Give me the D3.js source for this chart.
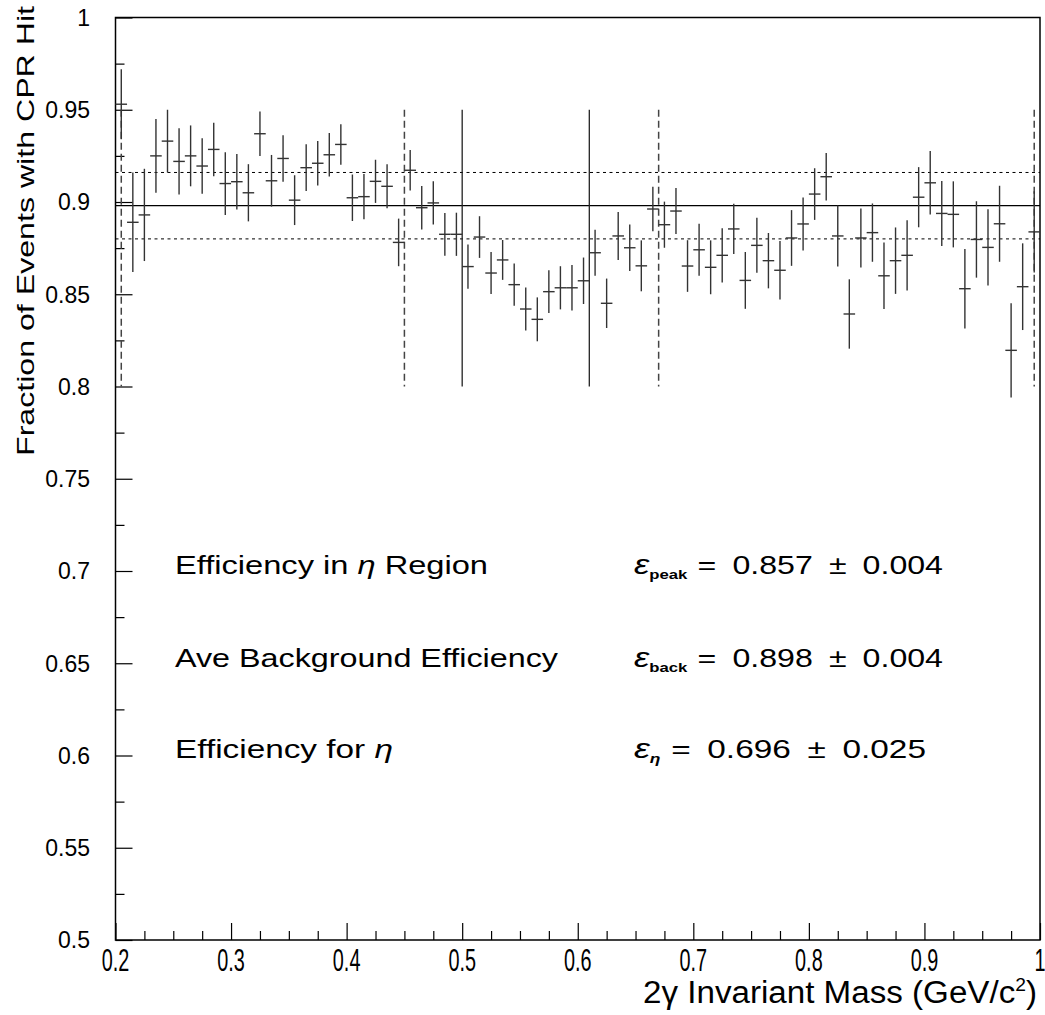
<!DOCTYPE html>
<html>
<head>
<meta charset="utf-8">
<script src="https://cdn.jsdelivr.net/npm/d3@7/dist/d3.min.js"></script>
<style>
  html, body { margin: 0; padding: 0; background: #fff; }
  svg { display: block; }
</style>
</head>
<body>
<svg id="chart" width="1045" height="1015"></svg>
<script>
// Bin centres of the 2-photon invariant mass histogram (GeV/c^2)
const massCenters = [
  0.205, 0.215, 0.225, 0.235, 0.245, 0.255, 0.265, 0.275, 0.285, 0.295,
  0.305, 0.315, 0.325, 0.335, 0.345, 0.355, 0.365, 0.375, 0.385, 0.395,
  0.405, 0.415, 0.425, 0.435, 0.445, 0.455, 0.465, 0.475, 0.485, 0.495,
  0.505, 0.515, 0.525, 0.535, 0.545, 0.555, 0.565, 0.575, 0.585, 0.595,
  0.605, 0.615, 0.625, 0.635, 0.645, 0.655, 0.665, 0.675, 0.685, 0.695,
  0.705, 0.715, 0.725, 0.735, 0.745, 0.755, 0.765, 0.775, 0.785, 0.795,
  0.805, 0.815, 0.825, 0.835, 0.845, 0.855, 0.865, 0.875, 0.885, 0.895,
  0.905, 0.915, 0.925, 0.935, 0.945, 0.955, 0.965, 0.975, 0.985, 0.995
];
// Half width of each mass bin
const binHalfWidth = 0.005;

// Fraction of events with a CPR hit in each bin
const fraction = [
  0.953, 0.889, 0.893, 0.925, 0.933, 0.922, 0.925, 0.9195, 0.9285, 0.910,
  0.911, 0.905, 0.937, 0.9115, 0.9236, 0.901, 0.9186, 0.921, 0.9256, 0.9312,
  0.9023, 0.9029, 0.9112, 0.9085, 0.8781, 0.9172, 0.8969, 0.8995, 0.8825, 0.8825,
  0.865, 0.881, 0.8615, 0.8686, 0.8552, 0.842, 0.8364, 0.8514, 0.8535, 0.8535,
  0.8573, 0.8725, 0.8451, 0.8816, 0.8752, 0.8654, 0.8962, 0.8877, 0.8951, 0.8653,
  0.8741, 0.8646, 0.8711, 0.8854, 0.8575, 0.8765, 0.8682, 0.863, 0.8805, 0.8881,
  0.9043, 0.9137, 0.8816, 0.8393, 0.8805, 0.8834, 0.860, 0.8682, 0.8711, 0.9026,
  0.9104, 0.8938, 0.8933, 0.853, 0.8797, 0.8754, 0.8882, 0.8196, 0.8541, 0.8838
];

// Statistical error on each fraction
const fractionErr = [
  0.019, 0.027, 0.025, 0.020, 0.017, 0.018, 0.0165, 0.015, 0.0145, 0.017,
  0.015, 0.0155, 0.012, 0.014, 0.0126, 0.0135, 0.0127, 0.012, 0.0118, 0.011,
  0.0126, 0.0123, 0.0117, 0.0119, 0.0129, 0.011, 0.0118, 0.0117, 0.0116, 0.0117,
  0.012, 0.0113, 0.0114, 0.0108, 0.0115, 0.0116, 0.0119, 0.0116, 0.0117, 0.0123,
  0.0126, 0.0125, 0.0134, 0.013, 0.0126, 0.0138, 0.0121, 0.0125, 0.0125, 0.014,
  0.0141, 0.0146, 0.0147, 0.0136, 0.0154, 0.0149, 0.015, 0.0159, 0.0151, 0.0144,
  0.014, 0.0129, 0.0165, 0.0188, 0.016, 0.0158, 0.018, 0.018, 0.019, 0.0163,
  0.0172, 0.0176, 0.0179, 0.0215, 0.0207, 0.0207, 0.0206, 0.0255, 0.0235, 0.022
];

// Average background efficiency and its band
const backgroundMean = 0.898;
const backgroundBand = [0.880, 0.916];

// Sideband limits (dashed) and eta peak window (solid)
const sidebandEdges = [0.205, 0.45, 0.67, 0.995];
const peakEdges = [0.5, 0.61];
const markerRange = [0.8, 0.95];

// Axis ticks
const xMajorTicks = [0.2, 0.3, 0.4, 0.5, 0.6, 0.7, 0.8, 0.9, 1.0];
const xTickLabels = ["0.2", "0.3", "0.4", "0.5", "0.6", "0.7", "0.8", "0.9", "1"];
const yMajorTicks = [0.5, 0.55, 0.6, 0.65, 0.7, 0.75, 0.8, 0.85, 0.9, 0.95, 1.0];
const yTickLabels = ["0.5", "0.55", "0.6", "0.65", "0.7", "0.75", "0.8", "0.85", "0.9", "0.95", "1"];

// Result annotations: label split around the italic eta
const resultLabels = [
  ["Efficiency in ", "\u03B7", " Region"],
  ["Ave Background Efficiency", "", ""],
  ["Efficiency for ", "\u03B7", ""]
];
const resultSymbols = ["peak", "back", "\u03B7"];
const resultValues = ["= 0.857 \u00B1 0.004", "= 0.898 \u00B1 0.004", "= 0.696 \u00B1 0.025"];
const resultRows = [0.6985, 0.648, 0.5985];

const svg = d3.select("#chart");
const plotLeft = 115.5, plotRight = 1040, plotTop = 17.5, plotBottom = 940;

const x = d3.scaleLinear().domain([0.2, 1.0]).range([plotLeft, plotRight]);
const y = d3.scaleLinear().domain([0.5, 1.0]).range([plotBottom, plotTop]);

// Frame
svg.append("rect")
  .attr("x", plotLeft).attr("y", plotTop)
  .attr("width", plotRight - plotLeft).attr("height", plotBottom - plotTop)
  .attr("fill", "none").attr("stroke", "#000").attr("stroke-width", 1.5);

// Inward ticks on the y axis
const yAxis = d3.axisRight(y)
  .tickValues(d3.range(0, 21).map(i => 0.5 + i * 0.025))
  .tickSize(0).tickFormat("");
const yAx = svg.append("g").attr("transform", `translate(${plotLeft},0)`).call(yAxis);
yAx.select(".domain").remove();
yAx.selectAll(".tick line")
  .attr("x2", (d, i) => i % 2 === 0 ? 17 : 9)
  .attr("stroke", "#000").attr("stroke-width", 1.2);

// Inward ticks on the x axis
const xAxis = d3.axisTop(x)
  .tickValues(d3.range(0, 33).map(i => 0.2 + i * 0.025))
  .tickSize(0).tickFormat("");
const xAx = svg.append("g").attr("transform", `translate(0,${plotBottom})`).call(xAxis);
xAx.select(".domain").remove();
xAx.selectAll(".tick line")
  .attr("y2", (d, i) => i % 4 === 0 ? -17 : -9)
  .attr("stroke", "#000").attr("stroke-width", 1.2);

// y tick labels
svg.append("g").selectAll("text")
  .data(yMajorTicks)
  .join("text")
  .attr("x", 90)
  .attr("y", d => y(d))
  .attr("dy", "0.36em")
  .attr("text-anchor", "end")
  .attr("font-family", "'Liberation Sans', Arial, sans-serif")
  .attr("font-size", 23)
  .attr("fill", "#000")
  .text((d, i) => yTickLabels[i]);

// x tick labels (condensed)
svg.append("g").selectAll("g")
  .data(xMajorTicks)
  .join("g")
  .attr("transform", d => `translate(${x(d)},971)`)
  .append("text")
  .attr("transform", "scale(0.62,1)")
  .attr("text-anchor", "middle")
  .attr("font-family", "'Liberation Sans', Arial, sans-serif")
  .attr("font-size", 32)
  .attr("fill", "#000")
  .text((d, i) => xTickLabels[i]);

// Axis titles
svg.append("text")
  .attr("x", 1037).attr("y", 1003)
  .attr("text-anchor", "end")
  .attr("font-family", "'Liberation Sans', Arial, sans-serif")
  .attr("font-size", 31)
  .attr("textLength", 394)
  .attr("lengthAdjust", "spacingAndGlyphs")
  .attr("fill", "#000")
  .html('2\u03B3 Invariant Mass (GeV/c<tspan dy="-12" font-size="18">2</tspan><tspan dy="12">)</tspan>');

svg.append("text")
  .attr("transform", "translate(34,6) rotate(-90)")
  .attr("text-anchor", "end")
  .attr("font-family", "'Liberation Sans', Arial, sans-serif")
  .attr("font-size", 24)
  .attr("textLength", 450)
  .attr("lengthAdjust", "spacingAndGlyphs")
  .attr("fill", "#000")
  .text("Fraction of Events with CPR Hit");

// Background mean (solid) and band (dotted)
svg.append("line")
  .attr("x1", plotLeft).attr("x2", plotRight)
  .attr("y1", y(backgroundMean)).attr("y2", y(backgroundMean))
  .attr("stroke", "#000").attr("stroke-width", 1.3);
svg.append("g").selectAll("line")
  .data(backgroundBand)
  .join("line")
  .attr("x1", plotLeft).attr("x2", plotRight)
  .attr("y1", d => y(d)).attr("y2", d => y(d))
  .attr("stroke", "#000").attr("stroke-width", 1)
  .attr("stroke-dasharray", "3,3.5");

// Sideband edges (dashed)
svg.append("g").selectAll("line")
  .data(sidebandEdges)
  .join("line")
  .attr("x1", d => x(d)).attr("x2", d => x(d))
  .attr("y1", y(markerRange[1])).attr("y2", y(markerRange[0]))
  .attr("stroke", "#444").attr("stroke-width", 1.5)
  .attr("stroke-dasharray", "7,4");

// Peak window (solid)
svg.append("g").selectAll("line")
  .data(peakEdges)
  .join("line")
  .attr("x1", d => x(d)).attr("x2", d => x(d))
  .attr("y1", y(markerRange[1])).attr("y2", y(markerRange[0]))
  .attr("stroke", "#222").attr("stroke-width", 1.3);

// Data points with error bars
const points = massCenters.map((m, i) => ({ m, v: fraction[i], e: fractionErr[i] }));
const pts = svg.append("g");
pts.selectAll("line.err")
  .data(points)
  .join("line")
  .attr("class", "err")
  .attr("x1", d => x(d.m)).attr("x2", d => x(d.m))
  .attr("y1", d => y(d.v + d.e)).attr("y2", d => y(d.v - d.e))
  .attr("stroke", "#333").attr("stroke-width", 1.4);
pts.selectAll("line.bin")
  .data(points)
  .join("line")
  .attr("class", "bin")
  .attr("x1", d => x(d.m - binHalfWidth)).attr("x2", d => x(d.m + binHalfWidth))
  .attr("y1", d => y(d.v)).attr("y2", d => y(d.v))
  .attr("stroke", "#333").attr("stroke-width", 1.4);

// Result annotations
const labelWidths = [313, 383, 218];
const eqWidths = [309, 309, 292];
const ann = svg.append("g")
  .attr("font-family", "'Liberation Sans', Arial, sans-serif")
  .attr("fill", "#000");
const lbl = ann.selectAll("text.lbl")
  .data(resultLabels)
  .join("text")
  .attr("class", "lbl")
  .attr("x", 175)
  .attr("y", (d, i) => y(resultRows[i]))
  .attr("font-size", 25)
  .attr("textLength", (d, i) => labelWidths[i])
  .attr("lengthAdjust", "spacingAndGlyphs");
lbl.append("tspan").text(d => d[0]);
lbl.append("tspan").attr("font-style", "italic").text(d => d[1]);
lbl.append("tspan").text(d => d[2]);

const eq = ann.selectAll("text.eq")
  .data(resultValues)
  .join("text")
  .attr("class", "eq")
  .attr("x", 634)
  .attr("y", (d, i) => y(resultRows[i]))
  .attr("font-size", 25)
  .attr("textLength", (d, i) => eqWidths[i])
  .attr("lengthAdjust", "spacingAndGlyphs");
eq.append("tspan").attr("font-style", "italic").attr("font-size", 27).text("\u03B5");
eq.append("tspan")
  .attr("font-size", 13).attr("font-weight", "bold").attr("dy", 5)
  .attr("font-style", (d, i) => resultSymbols[i] === "\u03B7" ? "italic" : "normal")
  .text((d, i) => resultSymbols[i]);
eq.append("tspan").attr("dy", -5).attr("dx", 8).text(d => d.replace("= ", "=\u2002").replace(" \u00B1 ", "\u2002\u00B1\u2002"));
</script>
</body>
</html>
